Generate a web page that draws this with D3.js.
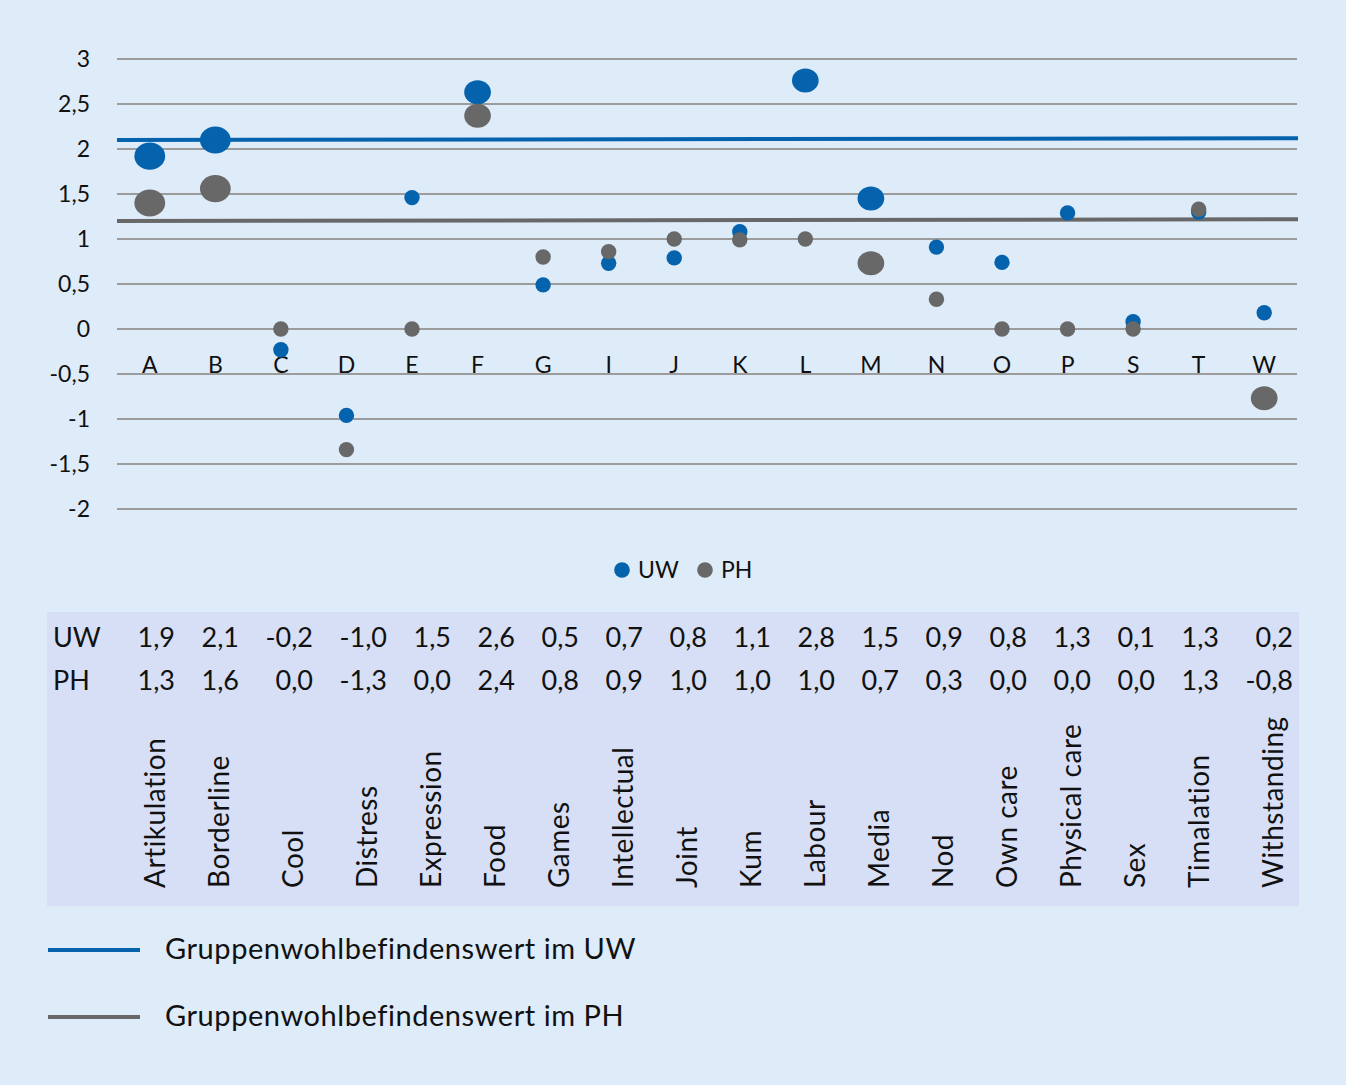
<!DOCTYPE html>
<html>
<head>
<meta charset="utf-8">
<script src="https://cdn.jsdelivr.net/npm/d3@7"></script>
<style>
  body { margin: 0; background: #deebf8; }
  svg { display: block; font-family: Lato, "Open Sans", sans-serif; }
</style>
</head>
<body>
<svg width="1346" height="1085"></svg>
<script>
// categories
const codes = ['A','B','C','D','E','F','G','I','J','K','L','M','N','O','P','S','T','W'];
const names = ['Artikulation','Borderline','Cool','Distress','Expression','Food','Games','Intellectual','Joint','Kum','Labour','Media','Nod','Own care','Physical care','Sex','Timalation','Withstanding'];

// plotted values
const uwValues = [1.92, 2.10, -0.23, -0.96, 1.46, 2.63, 0.49, 0.73, 0.79, 1.08, 2.76, 1.45, 0.91, 0.74, 1.29, 0.08, 1.30, 0.18];
const phValues = [1.40, 1.56, 0.00, -1.34, 0.00, 2.37, 0.80, 0.86, 1.00, 0.99, 1.00, 0.73, 0.33, 0.00, 0.00, 0.00, 1.33, -0.77];
// bubble sizes
const uwSizes = [4, 4, 1, 1, 1, 3, 1, 1, 1, 1, 3, 3, 1, 1, 1, 1, 1, 1];
const phSizes = [4, 4, 1, 1, 1, 3, 1, 1, 1, 1, 1, 3, 1, 1, 1, 1, 1, 3];

// data table rows
const uwTable = ['1,9','2,1','-0,2','-1,0','1,5','2,6','0,5','0,7','0,8','1,1','2,8','1,5','0,9','0,8','1,3','0,1','1,3','0,2'];
const phTable = ['1,3','1,6','0,0','-1,3','0,0','2,4','0,8','0,9','1,0','1,0','1,0','0,7','0,3','0,0','0,0','0,0','1,3','-0,8'];

// group wellbeing lines (left end, right end)
const groupUW = [2.10, 2.12];
const groupPH = [1.20, 1.22];

const yTicks = [-2, -1.5, -1, -0.5, 0, 0.5, 1, 1.5, 2, 2.5, 3];

const blue = '#0563ad';
const grey = '#686868';
const gridCol = '#9c9c9c';
const textCol = '#111';
const font = 'Lato, "Open Sans", sans-serif';

const svg = d3.select('svg');

const x = d3.scaleBand().domain(codes).range([117, 1297]);
const y = d3.scaleLinear().domain([-2, 3]).range([509, 59]);

const de = d3.formatLocale({decimal: ',', thousands: '.', grouping: [3], currency: ['', ' €'], minus: '-'});
const fmt = de.format('~g');

// gridlines
svg.append('g')
  .selectAll('line')
  .data(yTicks)
  .join('line')
  .attr('x1', 117).attr('x2', 1297)
  .attr('y1', d => y(d)).attr('y2', d => y(d))
  .attr('stroke', gridCol)
  .attr('stroke-width', 2);

// y axis labels
const yAxis = svg.append('g')
  .attr('transform', 'translate(117,0)')
  .call(d3.axisLeft(y).tickValues(yTicks).tickFormat(fmt).tickSize(0).tickPadding(27));
yAxis.select('.domain').remove();
yAxis.selectAll('text').attr('fill', textCol).style('font-size', '23px').style('font-family', font);

// category letters at the zero line
const xAxis = svg.append('g')
  .attr('transform', `translate(0,${y(0)})`)
  .call(d3.axisBottom(x).tickSize(0).tickPadding(28));
xAxis.select('.domain').remove();
xAxis.selectAll('text').attr('fill', textCol).style('font-size', '23px').style('font-family', font);

// group lines
const xl = d3.scaleLinear().domain([0, 1]).range([117, 1298]);
const line = d3.line().x((d, i) => xl(i)).y(d => y(d));
svg.append('path').datum(groupUW).attr('d', line).attr('stroke', blue).attr('stroke-width', 4).attr('fill', 'none');
svg.append('path').datum(groupPH).attr('d', line).attr('stroke', grey).attr('stroke-width', 4).attr('fill', 'none');

// bubbles
const rx = d3.scaleSqrt().domain([0, 4]).range([0, 15.4]);
const ry = d3.scaleLinear().domain([7.7, 15.4]).range([7.7, 13.6]);

function bubbles(values, sizes, color) {
  svg.append('g')
    .selectAll('ellipse')
    .data(codes.map((c, i) => ({c, v: values[i], s: sizes[i]})))
    .join('ellipse')
    .attr('cx', d => x(d.c) + x.bandwidth() / 2)
    .attr('cy', d => y(d.v))
    .attr('rx', d => rx(d.s))
    .attr('ry', d => ry(rx(d.s)))
    .attr('fill', color);
}
bubbles(uwValues, uwSizes, blue);
bubbles(phValues, phSizes, grey);

// series legend
const seriesLegend = [{k: 'UW', c: blue, x: 622}, {k: 'PH', c: grey, x: 705}];
const lg = svg.append('g').selectAll('g').data(seriesLegend).join('g')
  .attr('transform', d => `translate(${d.x},570)`);
lg.append('circle').attr('r', 7.8).attr('fill', d => d.c);
lg.append('text').attr('x', 16).attr('y', 8).text(d => d.k)
  .attr('fill', textCol).style('font-size', '23px');

// data table
svg.append('rect')
  .attr('x', 47).attr('y', 612).attr('width', 1252).attr('height', 294)
  .attr('fill', '#d6dff5');

const valFont = 27;
const probe = svg.append('text').style('font-size', valFont + 'px');
function measure(t) { probe.text(t); return probe.node().getComputedTextLength(); }
const colText = codes.map((c, i) => Math.max(measure(uwTable[i]), measure(phTable[i])));
probe.remove();
const tableLeft = 111, tableRight = 1293;
const pad = (tableRight - tableLeft - d3.sum(colText)) / codes.length;
let acc = tableLeft;
const colRight = colText.map(w => (acc += w + pad));

const rows = [{k: 'UW', vals: uwTable, y: 647}, {k: 'PH', vals: phTable, y: 690}];
rows.forEach(r => {
  svg.append('text').attr('x', 53).attr('y', r.y).text(r.k)
    .attr('fill', textCol).style('font-size', valFont + 'px');
  svg.append('g').selectAll('text').data(r.vals).join('text')
    .attr('x', (d, i) => colRight[i]).attr('y', r.y)
    .attr('text-anchor', 'end')
    .attr('fill', textCol).style('font-size', valFont + 'px')
    .text(d => d);
});

svg.append('g').selectAll('text').data(names).join('text')
  .attr('transform', (d, i) => `translate(${colRight[i] - 20},888) rotate(-90)`)
  .attr('dy', '0.36em')
  .attr('fill', textCol).style('font-size', '28px').style('letter-spacing', '0.5px')
  .text(d => d);

// group line legend
const groupLegend = [{k: 'Gruppenwohlbefindenswert im UW', c: blue, y: 950}, {k: 'Gruppenwohlbefindenswert im PH', c: grey, y: 1017}];
const gl = svg.append('g').selectAll('g').data(groupLegend).join('g')
  .attr('transform', d => `translate(0,${d.y})`);
gl.append('line').attr('x1', 48).attr('x2', 140).attr('stroke', d => d.c).attr('stroke-width', 4);
gl.append('text').attr('x', 165).attr('y', 9).text(d => d.k)
  .attr('fill', textCol).style('font-size', '29px').style('letter-spacing', '0.55px');
</script>
</body>
</html>
